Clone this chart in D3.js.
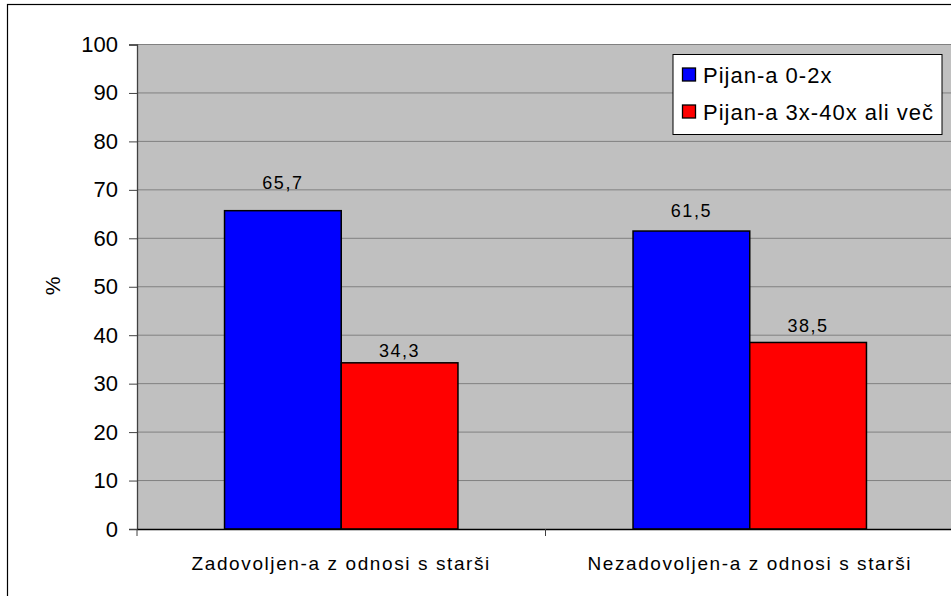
<!DOCTYPE html>
<html>
<head>
<meta charset="utf-8">
<script src="https://cdn.jsdelivr.net/npm/d3@7"></script>
<style>
body{margin:0;background:#fff;}
text{font-family:"Liberation Sans",Arial,sans-serif;fill:#000;}
</style>
</head>
<body>
<script>
// podatki
var categories = ["Zadovoljen-a z odnosi s starši", "Nezadovoljen-a z odnosi s starši"];
var seriesNames = ["Pijan-a 0-2x", "Pijan-a 3x-40x ali več"];
var seriesColors = ["#0000ff", "#ff0000"];
var pijan02 = [65.7, 61.5];
var pijan340 = [34.3, 38.5];
var yTicks = [0, 10, 20, 30, 40, 50, 60, 70, 80, 90, 100];

// odmik oznak nad stolpci (px), kot v izvirniku
var labelDy = [[22, 6], [14, 10.5]];

var width = 951, height = 596;
var mLeft = 137, mTop = 44.5, plotW = 817, plotH = 484.5;

var svg = d3.select("body").append("svg").attr("width", width).attr("height", height);

// okvir
svg.append("rect").attr("x", 7.5).attr("y", 4.5).attr("width", 960).attr("height", 620)
  .attr("fill", "#fff").attr("stroke", "#000").attr("stroke-width", 1.2);

var x0 = d3.scaleBand().domain(categories).range([0, plotW]).paddingInner(0).paddingOuter(0);
var x1 = d3.scaleBand().domain(seriesNames).range([0, x0.bandwidth()]).paddingInner(0).paddingOuter(0.75);
var y = d3.scaleLinear().domain([0, 100]).range([plotH, 0]);

var g = svg.append("g").attr("transform", "translate(" + mLeft + "," + mTop + ")");

g.append("rect").attr("width", plotW).attr("height", plotH).attr("fill", "#c0c0c0");

// mreza
g.selectAll(".grid").data(yTicks.slice(1)).enter().append("line")
  .attr("x1", 0).attr("x2", plotW)
  .attr("y1", function(d){return y(d);}).attr("y2", function(d){return y(d);})
  .attr("stroke", "#808080").attr("stroke-width", 1);

// y os
var yAxis = d3.axisLeft(y).tickValues(yTicks).tickSize(8).tickPadding(11);
var ya = g.append("g").call(yAxis);
ya.select(".domain").attr("stroke", "#404040").attr("stroke-width", 1.3);
ya.selectAll(".tick line").attr("stroke", "#404040");
ya.selectAll("text").attr("font-size", 22).attr("font-family", "Liberation Sans");

// stolpci
var data = categories.map(function(c, i){
  return {cat: c, vals: [{s: seriesNames[0], v: pijan02[i], c: seriesColors[0], dy: labelDy[i][0]},
                         {s: seriesNames[1], v: pijan340[i], c: seriesColors[1], dy: labelDy[i][1]}]};
});
var grp = g.selectAll(".grp").data(data).enter().append("g")
  .attr("transform", function(d){return "translate(" + x0(d.cat) + ",0)";});
grp.selectAll("rect").data(function(d){return d.vals;}).enter().append("rect")
  .attr("x", function(d){return x1(d.s);})
  .attr("y", function(d){return y(d.v);})
  .attr("width", x1.bandwidth())
  .attr("height", function(d){return plotH - y(d.v);})
  .attr("fill", function(d){return d.c;})
  .attr("stroke", "#000").attr("stroke-width", 1.5);
grp.selectAll(".lbl").data(function(d){return d.vals;}).enter().append("text")
  .attr("x", function(d){return x1(d.s) + x1.bandwidth()/2;})
  .attr("y", function(d){return y(d.v) - d.dy;})
  .attr("text-anchor", "middle").attr("font-size", 18).attr("letter-spacing", "1.5px")
  .text(function(d){return String(d.v).replace(".", ",");});

// x os
var xAxis = d3.axisBottom(x0).tickSize(0).tickPadding(28);
var xa = g.append("g").attr("transform", "translate(0," + plotH + ")").call(xAxis);
xa.select(".domain").attr("stroke", "#000").attr("stroke-width", 1.3);
xa.selectAll("text").attr("font-size", 19).attr("letter-spacing", "1.6px").attr("font-family", "Liberation Sans");
g.selectAll(".ctick").data([0, x0.bandwidth(), plotW]).enter().append("line")
  .attr("x1", function(d){return d;}).attr("x2", function(d){return d;})
  .attr("y1", plotH).attr("y2", plotH + 7).attr("stroke", "#404040");

// os y naslov
svg.append("text").attr("transform", "translate(60,286) rotate(-90)")
  .attr("text-anchor", "middle").attr("font-size", 21).text("%");

// legenda
var leg = svg.append("g").attr("transform", "translate(673,54.5)");
leg.append("rect").attr("width", 269).attr("height", 80).attr("fill", "#fff").attr("stroke", "#000").attr("stroke-width", 1);
seriesNames.forEach(function(s, i){
  var ly = 20 + i * 37;
  leg.append("rect").attr("x", 9.5).attr("y", ly - 6.5).attr("width", 13).attr("height", 13)
    .attr("fill", seriesColors[i]).attr("stroke", "#000").attr("stroke-width", 1.3);
  leg.append("text").attr("x", 30).attr("y", ly + 8).attr("font-size", 22).attr("letter-spacing", "1px").text(s);
});
</script>
</body>
</html>
